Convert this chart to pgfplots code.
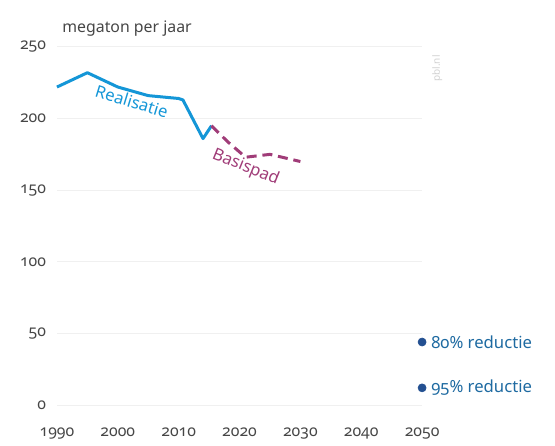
\documentclass[border=0pt]{standalone}
\usepackage{fontspec}
\setmainfont{Noto Sans}[Numbers=OldStyle]
\usepackage{pgfplots}
\pgfplotsset{compat=1.18}
\definecolor{realblue}{RGB}{20,150,215}
\definecolor{basispurple}{RGB}{160,60,120}
\definecolor{dotblue}{RGB}{35,80,145}
\definecolor{labgray}{RGB}{70,70,70}

\begin{document}
\begin{tikzpicture}
\begin{axis}[
  scale only axis,
  width=219pt, height=214.8pt,
  xmin=1990, xmax=2050, ymin=0, ymax=250,
  xtick={1990,2000,2010,2020,2030,2040,2050},
  xticklabels={\mbox{1990},\mbox{2000},\mbox{2010},\mbox{2020},\mbox{2030},\mbox{2040},\mbox{2050}},
  ytick={0,50,100,150,200,250},
  yticklabels={\mbox{0},\mbox{50},\mbox{100},\mbox{150},\mbox{200},\mbox{250}},
  axis line style={draw=none},
  major tick length=0pt,
  ymajorgrids,
  grid style={gray!12, line width=0.6pt},
  tick label style={font=\fontsize{9.5}{11}\selectfont, text=labgray},
  xticklabel style={yshift=-10pt},
  yticklabel style={xshift=-3pt},
  clip=false,
]
% realisatie
\addplot[realblue, line width=1.8pt, line join=round]
  coordinates {(1990,222)(1995,232)(2000,222)(2005,216)(2010,214)(2010.7,213)(2014,186)(2015.4,195)};
% basispad
\addplot[basispurple, line width=1.8pt, dash pattern=on 6pt off 3.5pt]
  coordinates {(2015.4,195)(2018,184)(2021,173)(2025,175)(2030,170)};
% reduction targets
\addplot[only marks, mark=*, mark size=2.4pt, dotblue]
  coordinates {(2050,44)(2050,12)};

\node[anchor=west, text=dotblue!85!cyan, font=\fontsize{10}{12}\selectfont] at (axis cs:2050,44) {\hspace{2pt}80\% reductie};
\node[anchor=west, text=dotblue!85!cyan, font=\fontsize{10}{12}\selectfont] at (axis cs:2050,12) {\hspace{2pt}95\% reductie};

\node[text=realblue, rotate=-17, font=\fontsize{10}{12}\selectfont] at (axis cs:2002.3,212) {Realisatie};
\node[text=basispurple, rotate=-22, font=\fontsize{10}{12}\selectfont] at (axis cs:2021,166) {Basispad};

\node[anchor=south west, text=labgray, font=\fontsize{9.5}{12}\selectfont, inner sep=0pt] at (rel axis cs:0.014,1.03) {megaton per jaar};
\node[rotate=90, text=gray!35, font=\fontsize{6}{7}\selectfont] at (axis cs:2052.5,235) {pbl.nl};

\coordinate (bl) at (rel axis cs:-0.156,-0.112);
\coordinate (tr) at (rel axis cs:1.364,1.131);
\end{axis}
\useasboundingbox (bl) rectangle (tr);
\end{tikzpicture}
\end{document}
